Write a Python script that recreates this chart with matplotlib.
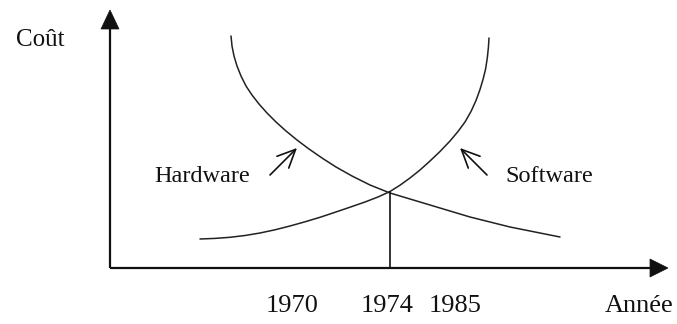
import matplotlib
matplotlib.use("Agg")
import matplotlib.pyplot as plt
from matplotlib.patches import Polygon

# Schematic cost curves (drawing units: x to the right, y downward)
hardware_x = [231, 232, 234, 237, 241, 246, 252, 259, 267, 276, 286, 297, 309,
              322, 336, 352, 370, 390, 410, 430, 450, 470, 490, 510, 530, 545, 560]
hardware_y = [36, 46, 56, 66, 76, 86, 95, 104, 113, 122, 131, 140, 149,
              158, 167, 176, 185, 193, 199, 205, 211, 217, 222, 227, 231, 234, 237]

software_x = [200, 215, 230, 245, 260, 275, 290, 305, 320, 335, 350, 365, 378,
              390, 400, 410, 420, 430, 440, 450, 458, 465, 471, 476, 480, 483,
              485.5, 487.3, 488.4, 489]
software_y = [239, 238.4, 237.3, 235.5, 233, 229.8, 226, 221.8, 217.3, 212.3,
              207.2, 202, 197, 191.5, 185.2, 178, 170, 161, 151.5, 141, 131.5,
              122, 111.5, 100.5, 89.5, 79.5, 69.5, 58, 47.5, 38]

# Year labels along the horizontal axis and their positions
year_labels = ["1970", "1974", "1985"]
year_pos = [292, 387, 455]

# Crossing point of the two curves
cross_x = 390
cross_y = 192

# Axes origin and extents
origin = (110, 268)
x_end = 668
y_end = 10

fig = plt.figure(figsize=(6.77, 3.24), dpi=100)
ax = fig.add_axes([0, 0, 1, 1])
ax.set_xlim(0, 677)
ax.set_ylim(324, 0)
ax.axis("off")

serif = ["Liberation Serif", "DejaVu Serif"]
ink = "#111111"

# Axes lines with filled arrowheads
ax.plot([origin[0], x_end - 15], [origin[1], origin[1]], color=ink, lw=1.6,
        solid_capstyle="butt")
ax.plot([origin[0], origin[0]], [origin[1], y_end + 15], color=ink, lw=1.6,
        solid_capstyle="butt")
ax.add_patch(Polygon([(x_end, origin[1]), (x_end - 18, origin[1] - 9),
                      (x_end - 18, origin[1] + 9)], closed=True,
                     facecolor=ink, edgecolor=ink, lw=0.5))
ax.add_patch(Polygon([(origin[0], y_end), (origin[0] - 9, y_end + 19),
                      (origin[0] + 9, y_end + 19)], closed=True,
                     facecolor=ink, edgecolor=ink, lw=0.5))

# Curves
ax.plot(hardware_x, hardware_y, color="#222222", lw=1.1,
        solid_joinstyle="round", solid_capstyle="round")
ax.plot(software_x, software_y, color="#222222", lw=1.1,
        solid_joinstyle="round", solid_capstyle="round")

# Vertical drop line from the crossing point
ax.plot([cross_x, cross_x], [cross_y, origin[1]], color=ink, lw=1.2)

# Pointer arrows
arrow_kw = dict(arrowstyle="->,head_length=1.3,head_width=0.6", color=ink,
                lw=1.2, mutation_scale=10, shrinkA=0, shrinkB=0)
ax.annotate("", xy=(297, 148), xytext=(270, 175), arrowprops=arrow_kw)
ax.annotate("", xy=(460, 148), xytext=(487, 175), arrowprops=arrow_kw)

# Text
ax.text(40, 40, "Coût", family=serif, fontsize=18, ha="center", va="center",
        color=ink)
ax.text(202, 177, "Hardware", family=serif, fontsize=17.5, ha="center",
        va="center", color=ink)
ax.text(549, 176, "Software", family=serif, fontsize=17.5, ha="center",
        va="center", color=ink)
for lab, xp in zip(year_labels, year_pos):
    ax.text(xp, 306, lab, family=serif, fontsize=19, ha="center", va="center",
            color=ink)
ax.text(639, 306, "Année", family=serif, fontsize=19, ha="center", va="center",
        color=ink)

fig.savefig("out.png", dpi=100, facecolor="white")
